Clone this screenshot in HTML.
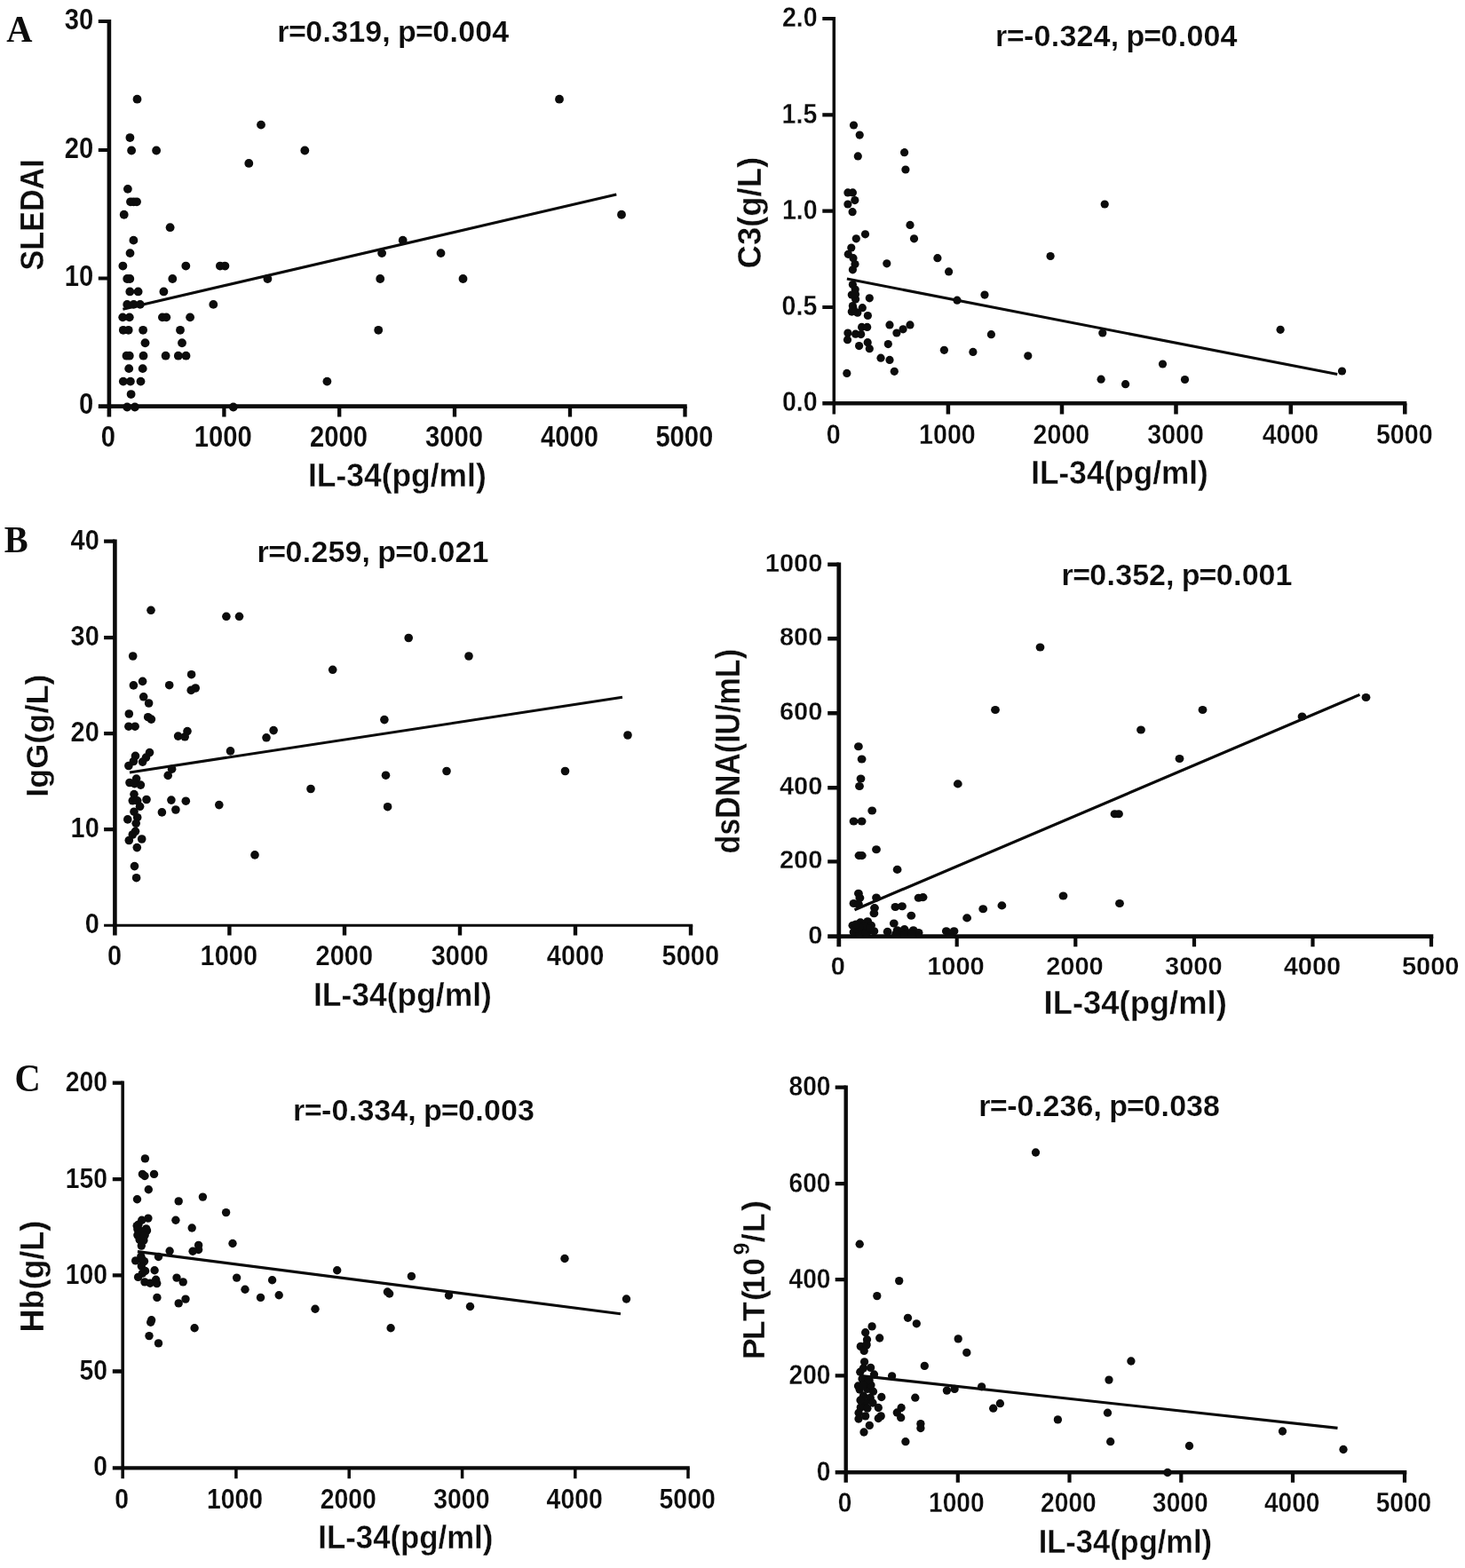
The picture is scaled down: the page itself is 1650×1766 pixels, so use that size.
<!DOCTYPE html>
<html lang="en"><head><meta charset="utf-8"><title>IL-34 correlations</title>
<style>html,body{margin:0;padding:0;background:#fff}svg{display:block}text{font-family:"Liberation Sans",sans-serif;font-weight:bold;fill:#0d0d0d;font-kerning:none;stroke:#fff;stroke-linejoin:round}.kAL .k{stroke-width:0.12px}.kAR .k{stroke-width:0.28px}.kBL .k{stroke-width:0.2px}.kBR .k{stroke-width:0.3px}.kCL .k{stroke-width:0.2px}.kCR .k{stroke-width:0.3px}.t{stroke-width:.3px}.h{stroke-width:.2px}.s{font-family:"Liberation Serif",serif;stroke:none}.ax{stroke:#0a0a0a;fill:none;stroke-linecap:butt}.d{fill:#0c0c0c}</style></head><body>
<svg width="1650" height="1766" viewBox="0 0 1650 1766">
<rect width="1650" height="1766" fill="#fff"/>
<g id="AL" class="kAL">
<path class="ax" stroke-width="4.6" d="M122.9 21.9 V469.4"/>
<path class="ax" stroke-width="4.7" d="M110.8 457.7 H773.7"/>
<path class="ax" stroke-width="4.3" d="M252.4 457.7V469.4M382.2 457.7V469.4M512 457.7V469.4M642 457.7V469.4M771.5 457.7V469.4"/>
<path class="ax" stroke-width="4" d="M122.9 313.6H110.8M122.9 168.9H110.8M122.9 23.9H110.8"/>
<text class="k" x="113.71" y="502.9" font-size="32.6" textLength="16.23" lengthAdjust="spacingAndGlyphs">0</text>
<text class="k" x="218.83" y="502.9" font-size="32.6" textLength="64.91" lengthAdjust="spacingAndGlyphs">1000</text>
<text class="k" x="349.04" y="502.9" font-size="32.6" textLength="64.91" lengthAdjust="spacingAndGlyphs">2000</text>
<text class="k" x="479.01" y="502.9" font-size="32.6" textLength="64.91" lengthAdjust="spacingAndGlyphs">3000</text>
<text class="k" x="609.12" y="502.9" font-size="32.6" textLength="64.91" lengthAdjust="spacingAndGlyphs">4000</text>
<text class="k" x="738.4" y="502.9" font-size="32.6" textLength="64.91" lengthAdjust="spacingAndGlyphs">5000</text>
<text class="k" x="88.97" y="465.7" font-size="32.6" textLength="16.23" lengthAdjust="spacingAndGlyphs">0</text>
<text class="k" x="72.74" y="322.3" font-size="32.6" textLength="32.45" lengthAdjust="spacingAndGlyphs">10</text>
<text class="k" x="72.74" y="178" font-size="32.6" textLength="32.45" lengthAdjust="spacingAndGlyphs">20</text>
<text class="k" x="72.74" y="33.4" font-size="32.6" textLength="32.45" lengthAdjust="spacingAndGlyphs">30</text>
<text class="h" y="47.4" font-size="34" x="312.33 325.01 344.32 363.55 373.32 392.32 411.31 430.37 439.44 448.07 467.92 487.22 506.45 516.23 535.22 554.22">r=0.319, p=0.004</text>
<text class="t" x="346.93" y="548" font-size="36.3" textLength="200.84" lengthAdjust="spacingAndGlyphs">IL-34(pg/ml)</text>
<text class="t" transform="translate(48.5 304.38) rotate(-90)" font-size="36.3" textLength="125.06" lengthAdjust="spacingAndGlyphs">SLEDAI</text>
<path class="ax" stroke-width="3.1" d="M138.4 348.3L694.3 219"/>
<g class="d"><circle cx="154.5" cy="111.7" r="4.9"/><circle cx="630" cy="111.7" r="4.9"/><circle cx="294" cy="140.6" r="4.9"/><circle cx="146.4" cy="155.05" r="4.9"/><circle cx="148.1" cy="169.5" r="4.9"/><circle cx="176.1" cy="169.5" r="4.9"/><circle cx="343.3" cy="169.5" r="4.9"/><circle cx="280.3" cy="183.95" r="4.9"/><circle cx="143.9" cy="212.85" r="4.9"/><circle cx="147" cy="227.3" r="4.9"/><circle cx="150.5" cy="227.3" r="4.9"/><circle cx="154" cy="227.3" r="4.9"/><circle cx="139.7" cy="241.75" r="4.9"/><circle cx="700" cy="241.75" r="4.9"/><circle cx="191.6" cy="256.2" r="4.9"/><circle cx="150.4" cy="270.65" r="4.9"/><circle cx="453.7" cy="270.65" r="4.9"/><circle cx="146.5" cy="285.1" r="4.9"/><circle cx="430.1" cy="285.1" r="4.9"/><circle cx="496.5" cy="285.1" r="4.9"/><circle cx="138.4" cy="299.55" r="4.9"/><circle cx="209.3" cy="299.55" r="4.9"/><circle cx="247.9" cy="299.55" r="4.9"/><circle cx="253.4" cy="299.55" r="4.9"/><circle cx="143.2" cy="314" r="4.9"/><circle cx="146.3" cy="314" r="4.9"/><circle cx="194.3" cy="314" r="4.9"/><circle cx="301.4" cy="314" r="4.9"/><circle cx="428.2" cy="314" r="4.9"/><circle cx="521.5" cy="314" r="4.9"/><circle cx="146.3" cy="328.45" r="4.9"/><circle cx="155.6" cy="328.45" r="4.9"/><circle cx="184.4" cy="328.45" r="4.9"/><circle cx="143.2" cy="342.9" r="4.9"/><circle cx="150.6" cy="342.9" r="4.9"/><circle cx="157.8" cy="342.9" r="4.9"/><circle cx="240.3" cy="342.9" r="4.9"/><circle cx="138.2" cy="357.35" r="4.9"/><circle cx="145.8" cy="357.35" r="4.9"/><circle cx="182.9" cy="357.35" r="4.9"/><circle cx="187.3" cy="357.35" r="4.9"/><circle cx="214.1" cy="357.35" r="4.9"/><circle cx="138.8" cy="371.8" r="4.9"/><circle cx="144.7" cy="371.8" r="4.9"/><circle cx="161.1" cy="371.8" r="4.9"/><circle cx="203" cy="371.8" r="4.9"/><circle cx="426.2" cy="371.8" r="4.9"/><circle cx="163.5" cy="386.25" r="4.9"/><circle cx="205" cy="386.25" r="4.9"/><circle cx="142.5" cy="400.7" r="4.9"/><circle cx="145.8" cy="400.7" r="4.9"/><circle cx="161.5" cy="400.7" r="4.9"/><circle cx="186.6" cy="400.7" r="4.9"/><circle cx="200.8" cy="400.7" r="4.9"/><circle cx="209.5" cy="400.7" r="4.9"/><circle cx="145.2" cy="415.15" r="4.9"/><circle cx="160.7" cy="415.15" r="4.9"/><circle cx="138.8" cy="429.6" r="4.9"/><circle cx="146.9" cy="429.6" r="4.9"/><circle cx="158.5" cy="429.6" r="4.9"/><circle cx="368.4" cy="429.6" r="4.9"/><circle cx="147.6" cy="444.05" r="4.9"/><circle cx="143.2" cy="458.5" r="4.9"/><circle cx="151.9" cy="458.5" r="4.9"/><circle cx="262.8" cy="458.5" r="4.9"/></g>
</g>
<g id="AR" class="kAR">
<path class="ax" stroke-width="3.5" d="M939.3 18.9 V466.5"/>
<path class="ax" stroke-width="4.5" d="M926.3 454.3 H1584.3"/>
<path class="ax" stroke-width="4.5" d="M1067.9 454.3V466.5M1196 454.3V466.5M1324.5 454.3V466.5M1453.8 454.3V466.5M1582.3 454.3V466.5"/>
<path class="ax" stroke-width="4.2" d="M939.3 346H926.3M939.3 237.7H926.3M939.3 129.3H926.3M939.3 21H926.3"/>
<text class="k" x="930.67" y="500" font-size="31.7" textLength="15.9" lengthAdjust="spacingAndGlyphs">0</text>
<text class="k" x="1035.08" y="500" font-size="31.7" textLength="63.61" lengthAdjust="spacingAndGlyphs">1000</text>
<text class="k" x="1163.59" y="500" font-size="31.7" textLength="63.61" lengthAdjust="spacingAndGlyphs">2000</text>
<text class="k" x="1292.25" y="500" font-size="31.7" textLength="63.61" lengthAdjust="spacingAndGlyphs">3000</text>
<text class="k" x="1421.67" y="500" font-size="31.7" textLength="63.61" lengthAdjust="spacingAndGlyphs">4000</text>
<text class="k" x="1549.94" y="500" font-size="31.7" textLength="63.61" lengthAdjust="spacingAndGlyphs">5000</text>
<text class="k" x="880.92" y="463.4" font-size="31.7" textLength="39.75" lengthAdjust="spacingAndGlyphs">0.0</text>
<text class="k" x="880.55" y="355.17" font-size="31.7" textLength="39.75" lengthAdjust="spacingAndGlyphs">0.5</text>
<text class="k" x="880.92" y="246.95" font-size="31.7" textLength="39.75" lengthAdjust="spacingAndGlyphs">1.0</text>
<text class="k" x="880.55" y="138.63" font-size="31.7" textLength="39.75" lengthAdjust="spacingAndGlyphs">1.5</text>
<text class="k" x="880.92" y="30.4" font-size="31.7" textLength="39.75" lengthAdjust="spacingAndGlyphs">2.0</text>
<text class="h" y="51.8" font-size="34" x="1121.04 1133.73 1153.08 1164.53 1183.78 1193.56 1212.57 1231.59 1250.66 1259.73 1268.38 1288.24 1307.56 1326.8 1336.59 1355.6 1374.61">r=-0.324, p=0.004</text>
<text class="t" x="1161.34" y="544.6" font-size="36.3" textLength="199.51" lengthAdjust="spacingAndGlyphs">IL-34(pg/ml)</text>
<text class="t" transform="translate(856.8 302.39) rotate(-90)" font-size="37.3" textLength="125.41" lengthAdjust="spacingAndGlyphs">C3(g/L)</text>
<path class="ax" stroke-width="3.1" d="M953.9 314L1506.2 421.6"/>
<g class="d"><circle cx="961.5" cy="141" r="4.6"/><circle cx="968.2" cy="152.1" r="4.6"/><circle cx="966.3" cy="175.9" r="4.6"/><circle cx="1018.6" cy="171.7" r="4.6"/><circle cx="1019.9" cy="191" r="4.6"/><circle cx="954.9" cy="216.9" r="4.6"/><circle cx="960.4" cy="216.9" r="4.6"/><circle cx="962.8" cy="225.6" r="4.6"/><circle cx="954.9" cy="230" r="4.6"/><circle cx="960.1" cy="238.7" r="4.6"/><circle cx="1244.2" cy="230" r="4.6"/><circle cx="1025" cy="253.4" r="4.6"/><circle cx="1029.5" cy="268.8" r="4.6"/><circle cx="974.5" cy="263.8" r="4.6"/><circle cx="964.3" cy="268.8" r="4.6"/><circle cx="958.8" cy="279.1" r="4.6"/><circle cx="955.3" cy="286.3" r="4.6"/><circle cx="961" cy="290.7" r="4.6"/><circle cx="963" cy="297.6" r="4.6"/><circle cx="960.4" cy="303.8" r="4.6"/><circle cx="998.8" cy="296.8" r="4.6"/><circle cx="1055.9" cy="290.7" r="4.6"/><circle cx="1068.6" cy="305.9" r="4.6"/><circle cx="1183.1" cy="288.5" r="4.6"/><circle cx="1109" cy="332.1" r="4.6"/><circle cx="1078" cy="338.2" r="4.6"/><circle cx="960.4" cy="320.6" r="4.6"/><circle cx="963.2" cy="326" r="4.6"/><circle cx="959.3" cy="332.1" r="4.6"/><circle cx="963.6" cy="336.9" r="4.6"/><circle cx="979.3" cy="335.8" r="4.6"/><circle cx="960.4" cy="344.6" r="4.6"/><circle cx="971.3" cy="346.7" r="4.6"/><circle cx="959.3" cy="351.1" r="4.6"/><circle cx="965.8" cy="352.2" r="4.6"/><circle cx="977.4" cy="355.5" r="4.6"/><circle cx="970.6" cy="368.4" r="4.6"/><circle cx="976.7" cy="368.4" r="4.6"/><circle cx="1002" cy="365.9" r="4.6"/><circle cx="1025" cy="365.9" r="4.6"/><circle cx="1017.1" cy="370.8" r="4.6"/><circle cx="1009.9" cy="375" r="4.6"/><circle cx="954.9" cy="375.1" r="4.6"/><circle cx="963.6" cy="376.2" r="4.6"/><circle cx="969.7" cy="376.6" r="4.6"/><circle cx="954.5" cy="382.7" r="4.6"/><circle cx="1116.4" cy="376.7" r="4.6"/><circle cx="1241.8" cy="375" r="4.6"/><circle cx="977.2" cy="385.7" r="4.6"/><circle cx="979.3" cy="392.7" r="4.6"/><circle cx="1000.3" cy="387.6" r="4.6"/><circle cx="967.6" cy="389.6" r="4.6"/><circle cx="1063.4" cy="394.3" r="4.6"/><circle cx="1095.9" cy="396.4" r="4.6"/><circle cx="1157.8" cy="400.8" r="4.6"/><circle cx="992" cy="403.2" r="4.6"/><circle cx="1002" cy="405.4" r="4.6"/><circle cx="1007.3" cy="418.3" r="4.6"/><circle cx="953.8" cy="420.4" r="4.6"/><circle cx="1240.1" cy="427.2" r="4.6"/><circle cx="1267.6" cy="432.7" r="4.6"/><circle cx="1511.5" cy="418" r="4.6"/><circle cx="1309.5" cy="410" r="4.6"/><circle cx="1334.5" cy="427.5" r="4.6"/><circle cx="963.5" cy="331.5" r="4.6"/><circle cx="961" cy="347.5" r="4.6"/><circle cx="1442.1" cy="371.3" r="4.6"/></g>
</g>
<g id="BL" class="kBL">
<path class="ax" stroke-width="4.6" d="M129.4 607.6 V1053.5"/>
<path class="ax" stroke-width="3" d="M117.1 1042.3 H780.2"/>
<path class="ax" stroke-width="4.4" d="M258.4 1042.3V1053.5M388 1042.3V1053.5M518 1042.3V1053.5M648 1042.3V1053.5M778 1042.3V1053.5"/>
<path class="ax" stroke-width="4.2" d="M129.4 934.2H117.1M129.4 826.2H117.1M129.4 718.2H117.1M129.4 609.7H117.1"/>
<text class="k" x="121.06" y="1086.5" font-size="31.7" textLength="16.11" lengthAdjust="spacingAndGlyphs">0</text>
<text class="k" x="225.55" y="1086.5" font-size="31.7" textLength="64.46" lengthAdjust="spacingAndGlyphs">1000</text>
<text class="k" x="355.56" y="1086.5" font-size="31.7" textLength="64.46" lengthAdjust="spacingAndGlyphs">2000</text>
<text class="k" x="485.73" y="1086.5" font-size="31.7" textLength="64.46" lengthAdjust="spacingAndGlyphs">3000</text>
<text class="k" x="615.85" y="1086.5" font-size="31.7" textLength="64.46" lengthAdjust="spacingAndGlyphs">4000</text>
<text class="k" x="745.62" y="1086.5" font-size="31.7" textLength="64.46" lengthAdjust="spacingAndGlyphs">5000</text>
<text class="k" x="95.67" y="1050.7" font-size="31.7" textLength="16.11" lengthAdjust="spacingAndGlyphs">0</text>
<text class="k" x="79.56" y="942.82" font-size="31.7" textLength="32.23" lengthAdjust="spacingAndGlyphs">10</text>
<text class="k" x="79.56" y="835.05" font-size="31.7" textLength="32.23" lengthAdjust="spacingAndGlyphs">20</text>
<text class="k" x="79.56" y="727.27" font-size="31.7" textLength="32.23" lengthAdjust="spacingAndGlyphs">30</text>
<text class="k" x="79.56" y="619" font-size="31.7" textLength="32.23" lengthAdjust="spacingAndGlyphs">40</text>
<text class="h" y="632.5" font-size="34" x="289.53 302.22 321.52 340.76 350.53 369.53 388.53 407.59 416.66 425.29 445.14 464.45 483.69 493.46 512.46 531.46">r=0.259, p=0.021</text>
<text class="t" x="353.03" y="1133" font-size="36.3" textLength="200.84" lengthAdjust="spacingAndGlyphs">IL-34(pg/ml)</text>
<text class="t" transform="translate(54.4 897.81) rotate(-90)" font-size="34.8" textLength="138.31" lengthAdjust="spacingAndGlyphs">IgG(g/L)</text>
<path class="ax" stroke-width="3" d="M146 869.9L701 785.3"/>
<g class="d"><circle cx="170" cy="687.3" r="4.8"/><circle cx="254.9" cy="694.3" r="4.8"/><circle cx="269.5" cy="694.3" r="4.8"/><circle cx="460.2" cy="718.5" r="4.8"/><circle cx="149.7" cy="739" r="4.8"/><circle cx="374.7" cy="754.3" r="4.8"/><circle cx="215.6" cy="759.7" r="4.8"/><circle cx="160.6" cy="767.4" r="4.8"/><circle cx="150.4" cy="771.9" r="4.8"/><circle cx="190.7" cy="771.7" r="4.8"/><circle cx="220.2" cy="775" r="4.8"/><circle cx="215.2" cy="777.4" r="4.8"/><circle cx="161.7" cy="784.8" r="4.8"/><circle cx="167.6" cy="792" r="4.8"/><circle cx="145.3" cy="804" r="4.8"/><circle cx="166.7" cy="807.7" r="4.8"/><circle cx="170.4" cy="810.1" r="4.8"/><circle cx="432.9" cy="810.6" r="4.8"/><circle cx="144.9" cy="818.2" r="4.8"/><circle cx="152.1" cy="818.2" r="4.8"/><circle cx="308.1" cy="822.6" r="4.8"/><circle cx="211" cy="823.6" r="4.8"/><circle cx="200.6" cy="829.1" r="4.8"/><circle cx="208.2" cy="829.8" r="4.8"/><circle cx="300" cy="830.8" r="4.8"/><circle cx="259.5" cy="845.9" r="4.8"/><circle cx="168.5" cy="847.6" r="4.8"/><circle cx="152.5" cy="851.4" r="4.8"/><circle cx="164.5" cy="853.1" r="4.8"/><circle cx="160.6" cy="858.1" r="4.8"/><circle cx="150.4" cy="857.5" r="4.8"/><circle cx="144.9" cy="862.5" r="4.8"/><circle cx="193.6" cy="866.2" r="4.8"/><circle cx="189.2" cy="873.4" r="4.8"/><circle cx="434.5" cy="873.2" r="4.8"/><circle cx="153.6" cy="877.1" r="4.8"/><circle cx="146" cy="881.5" r="4.8"/><circle cx="151.5" cy="882.6" r="4.8"/><circle cx="158.4" cy="884.1" r="4.8"/><circle cx="350" cy="888.5" r="4.8"/><circle cx="151" cy="894.6" r="4.8"/><circle cx="165" cy="900.5" r="4.8"/><circle cx="149.3" cy="901.8" r="4.8"/><circle cx="154.7" cy="901.8" r="4.8"/><circle cx="192.9" cy="901.1" r="4.8"/><circle cx="209.3" cy="902.2" r="4.8"/><circle cx="246.8" cy="906.6" r="4.8"/><circle cx="157.6" cy="908.3" r="4.8"/><circle cx="197.9" cy="912" r="4.8"/><circle cx="436.6" cy="908.7" r="4.8"/><circle cx="182.4" cy="914.9" r="4.8"/><circle cx="151" cy="914.2" r="4.8"/><circle cx="154.7" cy="920.7" r="4.8"/><circle cx="143.8" cy="922.9" r="4.8"/><circle cx="153.2" cy="927.3" r="4.8"/><circle cx="152.5" cy="936.3" r="4.8"/><circle cx="149.3" cy="940" r="4.8"/><circle cx="145.3" cy="946.5" r="4.8"/><circle cx="159.7" cy="945" r="4.8"/><circle cx="154.3" cy="954.6" r="4.8"/><circle cx="151.5" cy="975.6" r="4.8"/><circle cx="153.6" cy="988.7" r="4.8"/><circle cx="287" cy="962.9" r="4.8"/><circle cx="528" cy="739" r="4.8"/><circle cx="707" cy="828" r="4.8"/><circle cx="636.5" cy="868.5" r="4.8"/><circle cx="503" cy="868.5" r="4.8"/></g>
</g>
<g id="BR" class="kBR">
<path class="ax" stroke-width="4.8" d="M944.8 633.5 V1066.3"/>
<path class="ax" stroke-width="4.7" d="M932.2 1054.7 H1614.3"/>
<path class="ax" stroke-width="4.2" d="M1077.7 1054.7V1066.3M1211.3 1054.7V1066.3M1345 1054.7V1066.3M1478.5 1054.7V1066.3M1612 1054.7V1066.3"/>
<path class="ax" stroke-width="4.4" d="M944.8 970.4H932.2M944.8 887.2H932.2M944.8 803.2H932.2M944.8 719.2H932.2M944.8 635.7H932.2"/>
<text class="k" x="935.85" y="1097.9" font-size="29.6" textLength="16.13" lengthAdjust="spacingAndGlyphs">0</text>
<text class="k" x="1044.22" y="1097.9" font-size="29.6" textLength="64.53" lengthAdjust="spacingAndGlyphs">1000</text>
<text class="k" x="1178.23" y="1097.9" font-size="29.6" textLength="64.53" lengthAdjust="spacingAndGlyphs">2000</text>
<text class="k" x="1312.1" y="1097.9" font-size="29.6" textLength="64.53" lengthAdjust="spacingAndGlyphs">3000</text>
<text class="k" x="1445.71" y="1097.9" font-size="29.6" textLength="64.53" lengthAdjust="spacingAndGlyphs">4000</text>
<text class="k" x="1578.98" y="1097.9" font-size="29.6" textLength="64.53" lengthAdjust="spacingAndGlyphs">5000</text>
<text class="k" x="910.26" y="1062.5" font-size="29.6" textLength="16.13" lengthAdjust="spacingAndGlyphs">0</text>
<text class="k" x="877.99" y="978.28" font-size="29.6" textLength="48.4" lengthAdjust="spacingAndGlyphs">200</text>
<text class="k" x="877.99" y="895.16" font-size="29.6" textLength="48.4" lengthAdjust="spacingAndGlyphs">400</text>
<text class="k" x="877.99" y="811.24" font-size="29.6" textLength="48.4" lengthAdjust="spacingAndGlyphs">600</text>
<text class="k" x="877.99" y="727.32" font-size="29.6" textLength="48.4" lengthAdjust="spacingAndGlyphs">800</text>
<text class="k" x="861.86" y="643.9" font-size="29.6" textLength="64.53" lengthAdjust="spacingAndGlyphs">1000</text>
<text class="h" y="659" font-size="34" x="1195.52 1208.14 1227.37 1246.55 1256.27 1275.19 1294.12 1313.12 1322.16 1330.73 1350.51 1369.74 1388.92 1398.64 1417.56 1436.49">r=0.352, p=0.001</text>
<text class="t" x="1175.57" y="1141.9" font-size="36.3" textLength="206.25" lengthAdjust="spacingAndGlyphs">IL-34(pg/ml)</text>
<text class="t" transform="translate(833 961.6) rotate(-90)" font-size="38" textLength="230.59" lengthAdjust="spacingAndGlyphs">dsDNA(IU/mL)</text>
<path class="ax" stroke-width="3.2" d="M962.5 1024.7L1531.5 782.4"/>
<g class="d"><ellipse cx="966.9" cy="840.8" rx="4.9" ry="4.55"/><ellipse cx="970.6" cy="855" rx="4.9" ry="4.55"/><ellipse cx="969.5" cy="877" rx="4.9" ry="4.55"/><ellipse cx="968" cy="885.5" rx="4.9" ry="4.55"/><ellipse cx="1078.8" cy="882.9" rx="4.9" ry="4.55"/><ellipse cx="982.2" cy="913" rx="4.9" ry="4.55"/><ellipse cx="961.5" cy="925" rx="4.9" ry="4.55"/><ellipse cx="970.6" cy="925" rx="4.9" ry="4.55"/><ellipse cx="1255.5" cy="916.7" rx="4.9" ry="4.55"/><ellipse cx="1260" cy="916.7" rx="4.9" ry="4.55"/><ellipse cx="987" cy="956.7" rx="4.9" ry="4.55"/><ellipse cx="967.5" cy="963.6" rx="4.9" ry="4.55"/><ellipse cx="970.8" cy="963.6" rx="4.9" ry="4.55"/><ellipse cx="1010.6" cy="979.4" rx="4.9" ry="4.55"/><ellipse cx="966.9" cy="1006.2" rx="4.9" ry="4.55"/><ellipse cx="968.4" cy="1011.2" rx="4.9" ry="4.55"/><ellipse cx="987" cy="1011" rx="4.9" ry="4.55"/><ellipse cx="961.5" cy="1017.5" rx="4.9" ry="4.55"/><ellipse cx="966.9" cy="1018.2" rx="4.9" ry="4.55"/><ellipse cx="1034.6" cy="1011.2" rx="4.9" ry="4.55"/><ellipse cx="1039.6" cy="1010.6" rx="4.9" ry="4.55"/><ellipse cx="1008.4" cy="1021.5" rx="4.9" ry="4.55"/><ellipse cx="1016" cy="1020.8" rx="4.9" ry="4.55"/><ellipse cx="985" cy="1022.6" rx="4.9" ry="4.55"/><ellipse cx="984.4" cy="1028.7" rx="4.9" ry="4.55"/><ellipse cx="1026.3" cy="1031.3" rx="4.9" ry="4.55"/><ellipse cx="1197.5" cy="1009" rx="4.9" ry="4.55"/><ellipse cx="1261" cy="1017.5" rx="4.9" ry="4.55"/><ellipse cx="1128.4" cy="1019.9" rx="4.9" ry="4.55"/><ellipse cx="1107.2" cy="1023.7" rx="4.9" ry="4.55"/><ellipse cx="1089.1" cy="1033.9" rx="4.9" ry="4.55"/><ellipse cx="1006.8" cy="1040" rx="4.9" ry="4.55"/><ellipse cx="960.4" cy="1042.2" rx="4.9" ry="4.55"/><ellipse cx="969.1" cy="1038.9" rx="4.9" ry="4.55"/><ellipse cx="977.2" cy="1037.8" rx="4.9" ry="4.55"/><ellipse cx="981.1" cy="1042.2" rx="4.9" ry="4.55"/><ellipse cx="964.7" cy="1045.5" rx="4.9" ry="4.55"/><ellipse cx="972.4" cy="1046.6" rx="4.9" ry="4.55"/><ellipse cx="961.5" cy="1049.8" rx="4.9" ry="4.55"/><ellipse cx="968" cy="1050.9" rx="4.9" ry="4.55"/><ellipse cx="977.8" cy="1048.7" rx="4.9" ry="4.55"/><ellipse cx="984.4" cy="1048.7" rx="4.9" ry="4.55"/><ellipse cx="999.6" cy="1049.4" rx="4.9" ry="4.55"/><ellipse cx="1010.6" cy="1047.7" rx="4.9" ry="4.55"/><ellipse cx="1018.6" cy="1046.6" rx="4.9" ry="4.55"/><ellipse cx="1028.7" cy="1047.7" rx="4.9" ry="4.55"/><ellipse cx="1034.6" cy="1050.5" rx="4.9" ry="4.55"/><ellipse cx="1065.8" cy="1048.7" rx="4.9" ry="4.55"/><ellipse cx="1074.5" cy="1048.7" rx="4.9" ry="4.55"/><ellipse cx="1014.9" cy="1050.9" rx="4.9" ry="4.55"/><ellipse cx="1022.5" cy="1050.9" rx="4.9" ry="4.55"/><ellipse cx="1171.5" cy="729" rx="4.9" ry="4.55"/><ellipse cx="1121" cy="799.5" rx="4.9" ry="4.55"/><ellipse cx="1354.5" cy="799.5" rx="4.9" ry="4.55"/><ellipse cx="1538.5" cy="785.5" rx="4.9" ry="4.55"/><ellipse cx="1466.5" cy="807" rx="4.9" ry="4.55"/><ellipse cx="1285" cy="822" rx="4.9" ry="4.55"/><ellipse cx="1328.5" cy="854.5" rx="4.9" ry="4.55"/><ellipse cx="975.5" cy="1050.2" rx="4.9" ry="4.55"/><ellipse cx="1070" cy="1052" rx="4.9" ry="4.55"/><ellipse cx="1009" cy="1052" rx="4.9" ry="4.55"/><ellipse cx="1019" cy="1052.5" rx="4.9" ry="4.55"/><ellipse cx="1027" cy="1052.5" rx="4.9" ry="4.55"/><ellipse cx="964.4" cy="1046" rx="4.9" ry="4.55"/><ellipse cx="978.8" cy="1046" rx="4.9" ry="4.55"/><ellipse cx="973" cy="1042.5" rx="4.9" ry="4.55"/><ellipse cx="968" cy="1044" rx="4.9" ry="4.55"/><ellipse cx="980" cy="1045.5" rx="4.9" ry="4.55"/><ellipse cx="964" cy="1041" rx="4.9" ry="4.55"/></g>
</g>
<g id="CL" class="kCL">
<path class="ax" stroke-width="3.6" d="M138.2 1217.55 V1665.2"/>
<path class="ax" stroke-width="4.4" d="M126.8 1653.4 H776.8"/>
<path class="ax" stroke-width="3.5" d="M265.9 1653.4V1665.2M393.2 1653.4V1665.2M520.6 1653.4V1665.2M647.8 1653.4V1665.2M775 1653.4V1665.2"/>
<path class="ax" stroke-width="4.3" d="M138.2 1544.5H126.8M138.2 1436.3H126.8M138.2 1328.2H126.8M138.2 1219.7H126.8"/>
<text class="k" x="129.33" y="1699.1" font-size="31.7" textLength="15.78" lengthAdjust="spacingAndGlyphs">0</text>
<text class="k" x="233.03" y="1699.1" font-size="31.7" textLength="63.12" lengthAdjust="spacingAndGlyphs">1000</text>
<text class="k" x="360.73" y="1699.1" font-size="31.7" textLength="63.12" lengthAdjust="spacingAndGlyphs">2000</text>
<text class="k" x="488.3" y="1699.1" font-size="31.7" textLength="63.12" lengthAdjust="spacingAndGlyphs">3000</text>
<text class="k" x="615.61" y="1699.1" font-size="31.7" textLength="63.12" lengthAdjust="spacingAndGlyphs">4000</text>
<text class="k" x="742.59" y="1699.1" font-size="31.7" textLength="63.12" lengthAdjust="spacingAndGlyphs">5000</text>
<text class="k" x="105.18" y="1662.4" font-size="31.7" textLength="15.78" lengthAdjust="spacingAndGlyphs">0</text>
<text class="k" x="89.41" y="1553.65" font-size="31.7" textLength="31.56" lengthAdjust="spacingAndGlyphs">50</text>
<text class="k" x="73.63" y="1445.6" font-size="31.7" textLength="47.34" lengthAdjust="spacingAndGlyphs">100</text>
<text class="k" x="73.63" y="1337.65" font-size="31.7" textLength="47.34" lengthAdjust="spacingAndGlyphs">150</text>
<text class="k" x="73.63" y="1229.3" font-size="31.7" textLength="47.34" lengthAdjust="spacingAndGlyphs">200</text>
<text class="h" y="1261.9" font-size="34" x="330.03 342.68 362 373.42 392.63 402.38 421.35 440.31 459.35 468.41 477.02 496.83 516.11 535.32 545.07 564.04 583">r=-0.334, p=0.003</text>
<text class="t" x="358.37" y="1744.2" font-size="36.3" textLength="196.96" lengthAdjust="spacingAndGlyphs">IL-34(pg/ml)</text>
<text class="t" transform="translate(48.9 1500.51) rotate(-90)" font-size="36.8" textLength="125.8" lengthAdjust="spacingAndGlyphs">Hb(g/L)</text>
<path class="ax" stroke-width="3.1" d="M154.9 1409.6L699 1479.7"/>
<g class="d"><circle cx="163.4" cy="1304.9" r="4.7"/><circle cx="160.4" cy="1322.4" r="4.7"/><circle cx="163" cy="1324.5" r="4.7"/><circle cx="173.5" cy="1322.4" r="4.7"/><circle cx="167.3" cy="1339.8" r="4.7"/><circle cx="154.5" cy="1350.7" r="4.7"/><circle cx="201.2" cy="1352.9" r="4.7"/><circle cx="228.4" cy="1348.1" r="4.7"/><circle cx="254.6" cy="1365.6" r="4.7"/><circle cx="197.9" cy="1374.3" r="4.7"/><circle cx="216.2" cy="1383" r="4.7"/><circle cx="166.9" cy="1372.1" r="4.7"/><circle cx="159.7" cy="1374.3" r="4.7"/><circle cx="156" cy="1379.1" r="4.7"/><circle cx="164.7" cy="1383.9" r="4.7"/><circle cx="154.9" cy="1384.6" r="4.7"/><circle cx="159.3" cy="1387.8" r="4.7"/><circle cx="154.9" cy="1391.1" r="4.7"/><circle cx="163.2" cy="1391.1" r="4.7"/><circle cx="157.1" cy="1396.1" r="4.7"/><circle cx="161.9" cy="1397" r="4.7"/><circle cx="159.3" cy="1403.1" r="4.7"/><circle cx="223.6" cy="1402.4" r="4.7"/><circle cx="223.6" cy="1407.5" r="4.7"/><circle cx="217.1" cy="1409.2" r="4.7"/><circle cx="262" cy="1400.5" r="4.7"/><circle cx="191.1" cy="1409" r="4.7"/><circle cx="178.5" cy="1415.5" r="4.7"/><circle cx="152.7" cy="1419.9" r="4.7"/><circle cx="158.8" cy="1415.1" r="4.7"/><circle cx="162.5" cy="1420.6" r="4.7"/><circle cx="159.3" cy="1426" r="4.7"/><circle cx="163.6" cy="1431.5" r="4.7"/><circle cx="174.1" cy="1430.8" r="4.7"/><circle cx="155.6" cy="1438.4" r="4.7"/><circle cx="160.4" cy="1434.1" r="4.7"/><circle cx="163" cy="1443.9" r="4.7"/><circle cx="169.1" cy="1445.2" r="4.7"/><circle cx="175.6" cy="1441.3" r="4.7"/><circle cx="176.7" cy="1445.6" r="4.7"/><circle cx="199" cy="1439.1" r="4.7"/><circle cx="206.2" cy="1443.9" r="4.7"/><circle cx="266.6" cy="1439.1" r="4.7"/><circle cx="306.6" cy="1441.7" r="4.7"/><circle cx="379.7" cy="1430.8" r="4.7"/><circle cx="463.4" cy="1437.4" r="4.7"/><circle cx="276" cy="1452.2" r="4.7"/><circle cx="293.5" cy="1461.4" r="4.7"/><circle cx="314.2" cy="1458.7" r="4.7"/><circle cx="436.4" cy="1455" r="4.7"/><circle cx="438.6" cy="1457" r="4.7"/><circle cx="176.9" cy="1461.4" r="4.7"/><circle cx="209" cy="1463.1" r="4.7"/><circle cx="201.2" cy="1467.9" r="4.7"/><circle cx="355" cy="1474.2" r="4.7"/><circle cx="170.6" cy="1486.7" r="4.7"/><circle cx="169.7" cy="1489.3" r="4.7"/><circle cx="219.1" cy="1495.8" r="4.7"/><circle cx="440.1" cy="1495.8" r="4.7"/><circle cx="168" cy="1504.6" r="4.7"/><circle cx="178.5" cy="1512.9" r="4.7"/><circle cx="636" cy="1417.5" r="4.7"/><circle cx="705.5" cy="1463" r="4.7"/><circle cx="505.5" cy="1459" r="4.7"/><circle cx="529.5" cy="1471.5" r="4.7"/><circle cx="154.2" cy="1380.6" r="4.7"/><circle cx="165.5" cy="1386" r="4.7"/><circle cx="160" cy="1386.7" r="4.7"/><circle cx="160" cy="1418.2" r="4.7"/><circle cx="157.6" cy="1396.4" r="4.7"/><circle cx="162.4" cy="1391.5" r="4.7"/></g>
</g>
<g id="CR" class="kCR">
<path class="ax" stroke-width="4.4" d="M952.7 1222.45 V1669.7"/>
<path class="ax" stroke-width="4.4" d="M940.7 1658.2 H1584.3"/>
<path class="ax" stroke-width="4.2" d="M1078.8 1658.2V1669.7M1204.5 1658.2V1669.7M1330.3 1658.2V1669.7M1456 1658.2V1669.7M1582 1658.2V1669.7"/>
<path class="ax" stroke-width="4.3" d="M952.7 1549.3H940.7M952.7 1441.1H940.7M952.7 1333.2H940.7M952.7 1224.6H940.7"/>
<text class="k" x="943.7" y="1703.2" font-size="32.1" textLength="15.64" lengthAdjust="spacingAndGlyphs">0</text>
<text class="k" x="1046.01" y="1703.2" font-size="32.1" textLength="62.56" lengthAdjust="spacingAndGlyphs">1000</text>
<text class="k" x="1172.11" y="1703.2" font-size="32.1" textLength="62.56" lengthAdjust="spacingAndGlyphs">2000</text>
<text class="k" x="1298.08" y="1703.2" font-size="32.1" textLength="62.56" lengthAdjust="spacingAndGlyphs">3000</text>
<text class="k" x="1423.89" y="1703.2" font-size="32.1" textLength="62.56" lengthAdjust="spacingAndGlyphs">4000</text>
<text class="k" x="1549.67" y="1703.2" font-size="32.1" textLength="62.56" lengthAdjust="spacingAndGlyphs">5000</text>
<text class="k" x="919.81" y="1667.6" font-size="32.1" textLength="15.64" lengthAdjust="spacingAndGlyphs">0</text>
<text class="k" x="888.54" y="1558.7" font-size="32.1" textLength="46.92" lengthAdjust="spacingAndGlyphs">200</text>
<text class="k" x="888.54" y="1450.5" font-size="32.1" textLength="46.92" lengthAdjust="spacingAndGlyphs">400</text>
<text class="k" x="888.54" y="1342.6" font-size="32.1" textLength="46.92" lengthAdjust="spacingAndGlyphs">600</text>
<text class="k" x="888.54" y="1234" font-size="32.1" textLength="46.92" lengthAdjust="spacingAndGlyphs">800</text>
<text class="h" y="1257.2" font-size="34" x="1102.22 1114.87 1134.18 1145.59 1164.8 1174.54 1193.5 1212.46 1231.49 1240.54 1249.14 1268.95 1288.22 1307.42 1317.16 1336.12 1355.08">r=-0.236, p=0.038</text>
<text class="t" x="1169.69" y="1749.2" font-size="36.3" textLength="195.32" lengthAdjust="spacingAndGlyphs">IL-34(pg/ml)</text>
<text class="t" transform="translate(860.6 1530) rotate(-90)" font-size="35.9"><tspan x="-1.21 20.69 41.68 65 73.19 93.39">PLT(10</tspan><tspan x="116.49" dy="-16.16" font-size="25.13">9</tspan><tspan x="130.66 141.89 166.1" dy="16.16">/L)</tspan></text>
<path class="ax" stroke-width="3.1" d="M968 1549.4L1506.5 1608.4"/>
<g class="d"><circle cx="968.2" cy="1401.2" r="4.65"/><circle cx="1012.7" cy="1442.6" r="4.65"/><circle cx="987.8" cy="1459.6" r="4.65"/><circle cx="1022.5" cy="1484.3" r="4.65"/><circle cx="1032.3" cy="1490.8" r="4.65"/><circle cx="982.1" cy="1493.9" r="4.65"/><circle cx="974.7" cy="1500.7" r="4.65"/><circle cx="990.7" cy="1507" r="4.65"/><circle cx="976.5" cy="1508.7" r="4.65"/><circle cx="969.3" cy="1516.4" r="4.65"/><circle cx="975.8" cy="1515.3" r="4.65"/><circle cx="973.2" cy="1521.4" r="4.65"/><circle cx="1079.2" cy="1507.9" r="4.65"/><circle cx="1088.8" cy="1523.4" r="4.65"/><circle cx="1041.3" cy="1538.4" r="4.65"/><circle cx="1273.9" cy="1533" r="4.65"/><circle cx="1249" cy="1554.1" r="4.65"/><circle cx="973.6" cy="1533.8" r="4.65"/><circle cx="980.6" cy="1540.4" r="4.65"/><circle cx="968.8" cy="1545.2" r="4.65"/><circle cx="984.5" cy="1548" r="4.65"/><circle cx="1004.6" cy="1549.8" r="4.65"/><circle cx="979.1" cy="1554.6" r="4.65"/><circle cx="973.6" cy="1558.9" r="4.65"/><circle cx="968.2" cy="1565" r="4.65"/><circle cx="976.9" cy="1564.4" r="4.65"/><circle cx="983.5" cy="1567.2" r="4.65"/><circle cx="972.5" cy="1572" r="4.65"/><circle cx="980.2" cy="1574.2" r="4.65"/><circle cx="992.8" cy="1573.5" r="4.65"/><circle cx="974.7" cy="1579.6" r="4.65"/><circle cx="969.3" cy="1585.1" r="4.65"/><circle cx="976.9" cy="1586.2" r="4.65"/><circle cx="989.3" cy="1585.5" r="4.65"/><circle cx="967.1" cy="1591.2" r="4.65"/><circle cx="974.7" cy="1594.9" r="4.65"/><circle cx="992.2" cy="1594.9" r="4.65"/><circle cx="989.3" cy="1597.5" r="4.65"/><circle cx="979.3" cy="1605.4" r="4.65"/><circle cx="973" cy="1613" r="4.65"/><circle cx="1030.8" cy="1574.2" r="4.65"/><circle cx="1015.1" cy="1585.5" r="4.65"/><circle cx="1010.3" cy="1591" r="4.65"/><circle cx="1014.7" cy="1596.7" r="4.65"/><circle cx="1036.9" cy="1603.6" r="4.65"/><circle cx="1036.9" cy="1608.5" r="4.65"/><circle cx="1019.9" cy="1623.7" r="4.65"/><circle cx="1066.4" cy="1566.1" r="4.65"/><circle cx="1075.1" cy="1564.4" r="4.65"/><circle cx="1105.6" cy="1561.8" r="4.65"/><circle cx="1126.4" cy="1580.7" r="4.65"/><circle cx="1118.7" cy="1586.2" r="4.65"/><circle cx="1191.4" cy="1598.9" r="4.65"/><circle cx="1247.5" cy="1591.2" r="4.65"/><circle cx="1250.7" cy="1623.7" r="4.65"/><circle cx="1166.5" cy="1298" r="4.65"/><circle cx="1339.5" cy="1628.5" r="4.65"/><circle cx="1444.5" cy="1612" r="4.65"/><circle cx="1513" cy="1632.5" r="4.65"/><circle cx="1315" cy="1658.5" r="4.65"/><circle cx="971" cy="1553" r="4.65"/><circle cx="966.5" cy="1561" r="4.65"/><circle cx="981" cy="1560" r="4.65"/><circle cx="969" cy="1577" r="4.65"/><circle cx="983" cy="1580" r="4.65"/><circle cx="967" cy="1598" r="4.65"/><circle cx="972.4" cy="1541" r="4.65"/><circle cx="978" cy="1554.5" r="4.65"/><circle cx="972" cy="1560.1" r="4.65"/><circle cx="976" cy="1514.1" r="4.65"/></g>
</g>
<text class="s" transform="translate(7.3 47.3) scale(0.957 1)" font-size="42.3">A</text>
<text class="s" transform="translate(4.8 621.8) scale(0.95 1)" font-size="42.5">B</text>
<text class="s" transform="translate(16.6 1229.0) scale(0.93 1)" font-size="43.5">C</text>
</svg></body></html>
